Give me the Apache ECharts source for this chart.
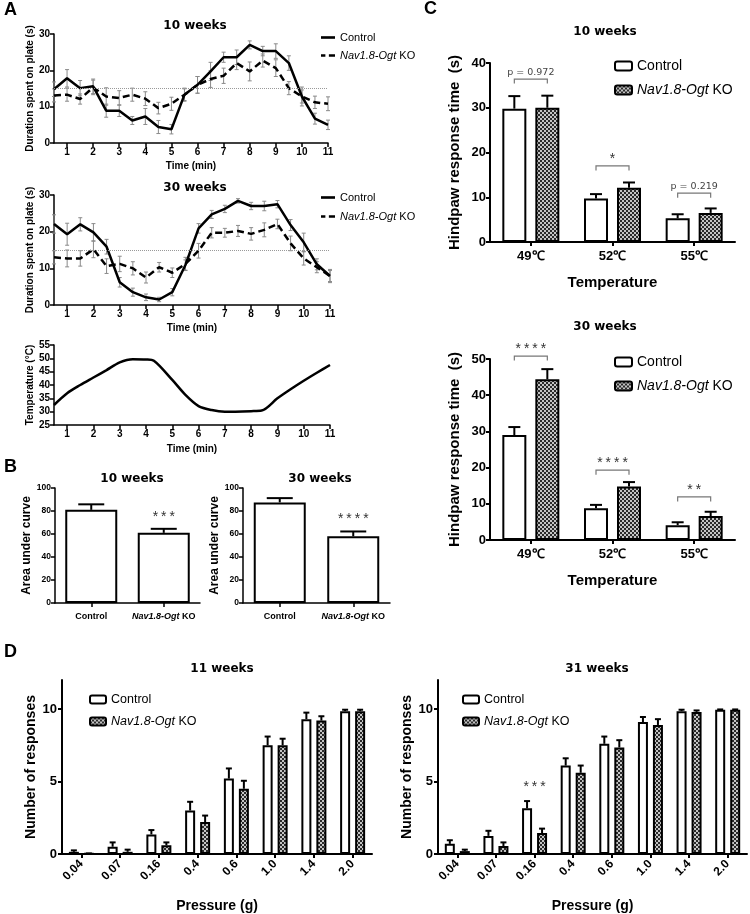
<!DOCTYPE html>
<html><head><meta charset="utf-8">
<script src="https://cdn.jsdelivr.net/npm/echarts@6/dist/echarts.min.js"></script>
<style>html,body{margin:0;padding:0;background:#fff}#c{width:750px;height:914px}</style>
</head><body><div id="c"></div>
<script>
// ---------- DATA ----------
const timeMin = [0.5,1,1.5,2,2.5,3,3.5,4,4.5,5,5.5,6,6.5,7,7.5,8,8.5,9,9.5,10,10.5,11];
const ctl10    = [14.8,17.8,15.1,15.6,8.9,8.9,6.2,7.3,4.4,3.8,13.3,16.0,19.7,23.6,23.6,27.0,25.3,25.3,22.0,12.8,6.7,5.0];
const ctl10Err = [2.0,2.4,2.1,2.0,1.8,1.6,1.1,2.2,1.8,1.3,1.8,2.3,2.5,1.4,2.0,1.1,1.3,2.0,2.0,2.6,1.5,1.3];
const ko10     = [13.1,13.3,12.1,15.3,12.8,12.4,13.3,12.2,9.6,10.8,13.3,16.0,17.6,18.5,22.0,19.7,22.7,20.6,15.1,12.8,11.2,10.8];
const ko10Err  = [1.8,1.8,1.4,2.0,2.4,2.0,1.8,1.9,1.6,1.8,1.6,2.3,2.3,2.1,1.8,2.6,1.8,2.3,1.8,1.8,1.7,1.9];
const ctl30    = [22.1,19.3,22.0,19.8,15.9,6.2,3.5,2.1,1.5,3.5,10.9,20.9,24.7,26.2,28.4,27.0,27.0,27.5,21.8,17.1,11.1,7.9];
const ctl30Err = [2.5,3.0,1.8,2.4,2.0,1.3,1.1,0.9,0.6,1.0,1.4,1.3,1.1,1.0,0.6,1.0,1.3,1.0,1.5,2.5,1.5,1.8];
const ko30     = [13.0,12.7,12.7,15.2,10.6,11.2,10.0,7.5,10.3,8.8,11.2,14.8,19.7,19.7,20.2,19.4,20.5,22.1,16.8,12.7,10.3,7.9];
const ko30Err  = [1.8,2.3,2.1,2.3,2.0,2.1,1.8,1.5,1.3,1.3,1.8,2.0,1.4,1.2,1.5,1.7,1.9,1.3,2.0,1.8,1.5,1.5];
const chanceLevel = 15;

const tempTime = [0.5,1,1.5,2,2.5,3,3.5,4,4.3,5,5.5,6,6.5,7,8,8.4,9,9.5,10,10.5,11];
const tempVal  = [32.5,36.9,40.0,42.8,45.6,48.5,49.7,49.6,49.1,41.9,36.3,32.1,30.6,30.0,30.2,30.4,35.0,38.4,41.6,44.6,47.5];

const groupsB   = ['Control','Nav1.8-Ogt KO'];
const auc10     = [81.0, 61.0];
const auc10Err  = [4.8, 3.5];
const auc30     = [87.5, 58.0];
const auc30Err  = [3.7, 4.2];

const hpCats     = ['49℃','52℃','55℃'];
const hpCtl10    = [29.8, 9.7, 5.3];
const hpCtl10Err = [2.8, 1.0, 0.9];
const hpKo10     = [30.0, 12.1, 6.5];
const hpKo10Err  = [2.7, 1.2, 1.0];
const hpCtl30    = [29.0, 8.8, 4.1];
const hpCtl30Err = [2.2, 0.9, 0.8];
const hpKo30     = [44.4, 14.8, 6.6];
const hpKo30Err  = [2.8, 1.2, 1.2];

const pressures = ['0.04','0.07','0.16','0.4','0.6','1.0','1.4','2.0'];
const vf11Ctl    = [0.15,0.5,1.35,3.0,5.2,7.5,9.3,9.85];
const vf11CtlErr = [0.1,0.3,0.3,0.6,0.7,0.6,0.45,0.1];
const vf11Ko     = [0.02,0.15,0.6,2.2,4.5,7.5,9.2,9.85];
const vf11KoErr  = [0.02,0.15,0.2,0.45,0.55,0.45,0.3,0.1];
const vf31Ctl    = [0.7,1.25,3.15,6.1,7.6,9.1,9.85,9.95];
const vf31CtlErr = [0.25,0.35,0.5,0.5,0.5,0.35,0.1,0.02];
const vf31Ko     = [0.2,0.55,1.45,5.6,7.35,8.9,9.8,9.95];
const vf31KoErr  = [0.1,0.25,0.3,0.5,0.5,0.4,0.1,0.02];

// significance annotations: [category index, y value, text]
const sigC10 = [[0,36.4,'p = 0.972'],[1,17.0,'*'],[2,10.9,'p = 0.219']];
const sigC30 = [[0,50.8,'****'],[1,19.3,'****'],[2,11.9,'**']];
const sigB10 = [[1,74,'***']];
const sigB30 = [[1,72,'****']];
const sigD31 = [[2,4.55,'***']];

// ---------- STYLE HELPERS ----------
const F = 'Liberation Sans', T = 'DejaVu Sans';
const pc = document.createElement('canvas'); pc.width = 4; pc.height = 4;
(function(){ const g = pc.getContext('2d'); g.fillStyle = '#c4c4c4'; g.fillRect(0,0,4,4); g.fillStyle = '#2a2a2a'; g.fillRect(0,0,2,2); g.fillRect(2,2,2,2); })();
const hatch = {image: pc, repeat: 'repeat'};

function valAxis(grid, o, fs, lw){
  return Object.assign({
    type:'value', gridIndex:grid, splitLine:{show:false},
    axisLine:{show:true, lineStyle:{color:'#000', width:lw}},
    axisTick:{show:true, length:4, lineStyle:{color:'#000', width:lw}},
    axisLabel:{color:'#000', fontFamily:F, fontWeight:'bold', fontSize:fs, margin:4},
    nameLocation:'middle',
    nameTextStyle:{color:'#000', fontFamily:F, fontWeight:'bold', fontSize:fs}
  }, o);
}
function catAxis(grid, cats, o, fs, lw){
  return Object.assign({
    type:'category', gridIndex:grid, data:cats, boundaryGap:true,
    axisLine:{show:true, lineStyle:{color:'#000', width:lw}},
    axisTick:{show:true, alignWithLabel:true, length:4, lineStyle:{color:'#000', width:lw}},
    axisLabel:{color:'#000', fontFamily:F, fontWeight:'bold', fontSize:fs, interval:0},
    nameLocation:'middle',
    nameTextStyle:{color:'#000', fontFamily:F, fontWeight:'bold', fontSize:fs}
  }, o);
}
const nameFmt = n => n.startsWith('Control') ? 'Control' : '{i|Nav1.8-Ogt} KO';

function errLineItem(color){
  return function(params, api){
    const x = api.value(0), m = api.value(1), e = api.value(2);
    const a = api.coord([x, m + e]), b = api.coord([x, m - e]);
    const st = {stroke:color, lineWidth:1};
    return {type:'group', children:[
      {type:'line', shape:{x1:a[0], y1:a[1], x2:b[0], y2:b[1]}, style:st},
      {type:'line', shape:{x1:a[0]-2, y1:a[1], x2:a[0]+2, y2:a[1]}, style:st},
      {type:'line', shape:{x1:b[0]-2, y1:b[1], x2:b[0]+2, y2:b[1]}, style:st}
    ]};
  };
}
function errBarItem(offset, cap, lw){
  return function(params, api){
    const c = api.value(0), m = api.value(1), e = api.value(2);
    const b = api.coord([c, m]), a = api.coord([c, m + e]);
    const x = b[0] + offset;
    const st = {stroke:'#000', lineWidth:lw};
    return {type:'group', children:[
      {type:'line', shape:{x1:x, y1:b[1], x2:x, y2:a[1]}, style:st},
      {type:'line', shape:{x1:x-cap, y1:a[1], x2:x+cap, y2:a[1]}, style:st}
    ]};
  };
}
function sigItem(list, half, bracket, font){
  return function(params, api){
    const d = list[params.dataIndex];
    const p = api.coord([d[0], d[1]]);
    const ch = [];
    const isStar = /^\*+$/.test(d[2]);
    if (bracket){
      const st = {stroke:'#777', lineWidth:1.2, fill:null};
      ch.push({type:'polyline', shape:{points:[[p[0]-half,p[1]+4.5],[p[0]-half,p[1]],[p[0]+half,p[1]],[p[0]+half,p[1]+4.5]]}, style:st});
    }
    ch.push({type:'text', style:{text:d[2], x:p[0], y: bracket ? (isStar ? p[1]+1 : p[1]-2) : p[1],
      align:'center', verticalAlign: bracket ? 'bottom' : 'middle',
      font: isStar ? font : 'normal 9.5px "DejaVu Sans"', fill: isStar ? '#333' : '#444'}});
    return {type:'group', children:ch};
  };
}
const starFont = '14px "Liberation Mono"';

// ---------- GRIDS ----------
const grids = [
  {left:54, top:34, width:274, height:109},   // A 10w
  {left:54, top:195, width:276, height:110},  // A 30w
  {left:54, top:345, width:276, height:80},   // A temp
  {left:55, top:488, width:145, height:115},  // B 10w
  {left:243, top:488, width:147, height:115}, // B 30w
  {left:490, top:63, width:245, height:179},  // C 10w
  {left:490, top:359, width:245, height:181}, // C 30w
  {left:62, top:680, width:310, height:174},  // D 11w
  {left:438, top:680, width:309, height:174}  // D 31w
];
const ticks11 = [1,2,3,4,5,6,7,8,9,10,11];

const xAxes = [
  valAxis(0, {min:0.5, max:11, name:'Time (min)', nameGap:18,
    axisLabel:{color:'#000', fontFamily:F, fontWeight:'bold', fontSize:10, margin:4, customValues:ticks11},
    axisTick:{show:true, length:4, lineStyle:{color:'#000', width:1.5}, customValues:ticks11}}, 10, 1.5),
  valAxis(1, {min:0.5, max:11, name:'Time (min)', nameGap:18,
    axisLabel:{color:'#000', fontFamily:F, fontWeight:'bold', fontSize:10, margin:4, customValues:ticks11},
    axisTick:{show:true, length:4, lineStyle:{color:'#000', width:1.5}, customValues:ticks11}}, 10, 1.5),
  valAxis(2, {min:0.5, max:11, name:'Time (min)', nameGap:19,
    axisLabel:{color:'#000', fontFamily:F, fontWeight:'bold', fontSize:10, margin:4, customValues:ticks11},
    axisTick:{show:true, length:4, lineStyle:{color:'#000', width:1.5}, customValues:ticks11}}, 10, 1.5),
  catAxis(3, groupsB, {axisLabel:{color:'#000', fontFamily:F, fontWeight:'bold', fontSize:9, margin:9, interval:0, formatter:nameFmt, rich:{i:{fontStyle:'italic', fontWeight:'bold', fontFamily:F, fontSize:9, color:'#000'}}}}, 9, 1.5),
  catAxis(4, groupsB, {axisLabel:{color:'#000', fontFamily:F, fontWeight:'bold', fontSize:9, margin:9, interval:0, formatter:nameFmt, rich:{i:{fontStyle:'italic', fontWeight:'bold', fontFamily:F, fontSize:9, color:'#000'}}}}, 9, 1.5),
  catAxis(5, hpCats, {name:'Temperature', nameGap:33, nameTextStyle:{color:'#000', fontFamily:F, fontWeight:'bold', fontSize:15},
    axisLabel:{color:'#000', fontFamily:F, fontWeight:'bold', fontSize:13, margin:8, interval:0}}, 13, 2),
  catAxis(6, hpCats, {name:'Temperature', nameGap:33, nameTextStyle:{color:'#000', fontFamily:F, fontWeight:'bold', fontSize:15},
    axisLabel:{color:'#000', fontFamily:F, fontWeight:'bold', fontSize:13, margin:8, interval:0}}, 13, 2),
  catAxis(7, pressures, {name:'Pressure (g)', nameGap:45, nameTextStyle:{color:'#000', fontFamily:F, fontWeight:'bold', fontSize:14},
    axisLabel:{color:'#000', fontFamily:F, fontWeight:'bold', fontSize:12, rotate:45, margin:8, interval:0}}, 12, 2),
  catAxis(8, pressures, {name:'Pressure (g)', nameGap:45, nameTextStyle:{color:'#000', fontFamily:F, fontWeight:'bold', fontSize:14},
    axisLabel:{color:'#000', fontFamily:F, fontWeight:'bold', fontSize:12, rotate:45, margin:8, interval:0}}, 12, 2)
];
const yAxes = [
  valAxis(0, {min:0, max:30, interval:10, name:'Duration spent on plate (s)', nameGap:19}, 10, 1.5),
  valAxis(1, {min:0, max:30, interval:10, name:'Duration spent on plate (s)', nameGap:19}, 10, 1.5),
  valAxis(2, {min:25, max:55, interval:5, name:'Temperature (°C)', nameGap:19}, 10, 1.5),
  valAxis(3, {min:0, max:100, interval:20, name:'Area under curve', nameGap:22,
    nameTextStyle:{color:'#000', fontFamily:F, fontWeight:'bold', fontSize:12}}, 8.5, 1.5),
  valAxis(4, {min:0, max:100, interval:20, name:'Area under curve', nameGap:22,
    nameTextStyle:{color:'#000', fontFamily:F, fontWeight:'bold', fontSize:12}}, 8.5, 1.5),
  valAxis(5, {min:0, max:40, interval:10, name:'Hindpaw response time  (s)', nameGap:28,
    nameTextStyle:{color:'#000', fontFamily:F, fontWeight:'bold', fontSize:15}}, 13, 2),
  valAxis(6, {min:0, max:50, interval:10, name:'Hindpaw response time  (s)', nameGap:28,
    nameTextStyle:{color:'#000', fontFamily:F, fontWeight:'bold', fontSize:15}}, 13, 2),
  valAxis(7, {min:0, max:12, name:'Number of responses', nameGap:22,
    axisLabel:{color:'#000', fontFamily:F, fontWeight:'bold', fontSize:13, margin:5, customValues:[0,5,10]},
    axisTick:{show:true, length:4, lineStyle:{color:'#000', width:2}, customValues:[0,5,10]},
    nameTextStyle:{color:'#000', fontFamily:F, fontWeight:'bold', fontSize:14}}, 13, 2),
  valAxis(8, {min:0, max:12, name:'Number of responses', nameGap:22,
    axisLabel:{color:'#000', fontFamily:F, fontWeight:'bold', fontSize:13, margin:5, customValues:[0,5,10]},
    axisTick:{show:true, length:4, lineStyle:{color:'#000', width:2}, customValues:[0,5,10]},
    nameTextStyle:{color:'#000', fontFamily:F, fontWeight:'bold', fontSize:14}}, 13, 2)
];

// ---------- SERIES ----------
const series = [];
function lineSet(idx, tag, c, cE, k, kE){
  series.push({type:'custom', name:'errC'+tag, xAxisIndex:idx, yAxisIndex:idx, z:1,
    renderItem:errLineItem('#8a8a8a'), data:timeMin.map((t,i)=>[t,c[i],cE[i]]), silent:true});
  series.push({type:'custom', name:'errK'+tag, xAxisIndex:idx, yAxisIndex:idx, z:1,
    renderItem:errLineItem('#8a8a8a'), data:timeMin.map((t,i)=>[t,k[i],kE[i]]), silent:true});
  series.push({type:'line', name:'Control#'+tag, xAxisIndex:idx, yAxisIndex:idx, z:3,
    symbol:'none', lineStyle:{color:'#000', width:2.5}, itemStyle:{color:'#000'},
    data:timeMin.map((t,i)=>[t,c[i]]),
    markLine:{silent:true, symbol:'none', label:{show:false}, lineStyle:{type:'dotted', color:'#999', width:1},
      data:[{yAxis:chanceLevel}]}});
  series.push({type:'line', name:'Nav1.8-Ogt KO#'+tag, xAxisIndex:idx, yAxisIndex:idx, z:3,
    symbol:'none', lineStyle:{color:'#000', width:2.5, type:[7,4]}, itemStyle:{color:'#000'},
    data:timeMin.map((t,i)=>[t,k[i]])});
}
lineSet(0,'a10',ctl10,ctl10Err,ko10,ko10Err);
lineSet(1,'a30',ctl30,ctl30Err,ko30,ko30Err);
series.push({type:'line', name:'temp', xAxisIndex:2, yAxisIndex:2, symbol:'none', smooth:0.3,
  lineStyle:{color:'#000', width:2.5}, data:tempTime.map((t,i)=>[t,tempVal[i]])});

// B
function aucSet(idx, vals, errs, sig){
  series.push({type:'bar', name:'auc'+idx, xAxisIndex:idx, yAxisIndex:idx, barWidth:52, z:2,
    itemStyle:{color:'#fff', borderColor:'#000', borderWidth:2}, data:vals});
  series.push({type:'custom', name:'aucErr'+idx, xAxisIndex:idx, yAxisIndex:idx, z:1,
    renderItem:errBarItem(0, 13, 2), data:vals.map((v,i)=>[i,v,errs[i]]), silent:true});
  series.push({type:'custom', name:'aucSig'+idx, xAxisIndex:idx, yAxisIndex:idx, z:4, clip:false,
    renderItem:sigItem(sig, 0, false, starFont), data:sig.map(d=>[d[0],d[1]]), silent:true});
}
aucSet(3, auc10, auc10Err, sigB10);
aucSet(4, auc30, auc30Err, sigB30);

// C and D grouped bars
function pairSet(idx, tag, c, cE, k, kE, bw, gapPct, off, cap, sig, bracket){
  series.push({type:'bar', name:'Control#'+tag, xAxisIndex:idx, yAxisIndex:idx, barWidth:bw, barGap:gapPct, z:2,
    itemStyle:{color:'#fff', borderColor:'#000', borderWidth:2}, data:c});
  series.push({type:'bar', name:'Nav1.8-Ogt KO#'+tag, xAxisIndex:idx, yAxisIndex:idx, barWidth:bw, barGap:gapPct, z:2,
    itemStyle:{color:hatch, borderColor:'#000', borderWidth:2}, data:k});
  series.push({type:'custom', name:'eC'+tag, xAxisIndex:idx, yAxisIndex:idx, z:1,
    renderItem:errBarItem(-off, cap, 2), data:c.map((v,i)=>[i,v,cE[i]]), silent:true});
  series.push({type:'custom', name:'eK'+tag, xAxisIndex:idx, yAxisIndex:idx, z:1,
    renderItem:errBarItem(off, cap, 2), data:k.map((v,i)=>[i,v,kE[i]]), silent:true});
  if (sig) series.push({type:'custom', name:'sig'+tag, xAxisIndex:idx, yAxisIndex:idx, z:4, clip:false,
    renderItem:sigItem(sig, off, bracket, starFont), data:sig.map(d=>[d[0],d[1]]), silent:true});
}
pairSet(5,'c10',hpCtl10,hpCtl10Err,hpKo10,hpKo10Err,24,'37.5%',16.5,6,sigC10,true);
pairSet(6,'c30',hpCtl30,hpCtl30Err,hpKo30,hpKo30Err,24,'37.5%',16.5,6,sigC30,true);
pairSet(7,'d11',vf11Ctl,vf11CtlErr,vf11Ko,vf11KoErr,10,'50%',7.5,3,null,false);
pairSet(8,'d31',vf31Ctl,vf31CtlErr,vf31Ko,vf31KoErr,10,'50%',7.5,3,sigD31,false);

// ---------- LEGENDS ----------
const solidIcon = 'path://M0,0H16V3H0Z';
const dashIcon  = 'path://M0,0H5V3H0Z M9,0H16V3H9Z';
function legend(tag, left, top, fs, iw, ih, gap, isLine){
  const lg = {left:left, top:top, orient:'vertical', selectedMode:false, itemWidth:iw, itemHeight:ih, itemGap:gap,
    formatter:nameFmt,
    textStyle:{color:'#000', fontFamily:F, fontSize:fs, rich:{i:{fontStyle:'italic', fontFamily:F, fontSize:fs, color:'#000'}}}};
  if (isLine){
    lg.data = [{name:'Control#'+tag, icon:solidIcon, itemStyle:{color:'#000', borderWidth:0}},
               {name:'Nav1.8-Ogt KO#'+tag, icon:dashIcon, itemStyle:{color:'#000', borderWidth:0}}];
  } else {
    lg.data = ['Control#'+tag, 'Nav1.8-Ogt KO#'+tag];
  }
  return lg;
}
const legends = [
  legend('a10', 316, 27, 11, 14, 3, 7, true),
  legend('a30', 316, 187, 11, 14, 3, 8, true),
  legend('c10', 609, 54, 14, 17, 9, 10, false),
  legend('c30', 609, 350, 14, 17, 9, 10, false),
  legend('d11', 84, 688, 12.5, 16, 8, 9, false),
  legend('d31', 457, 688, 12.5, 16, 8, 9, false)
];

// ---------- TITLES ----------
function ttl(text, cx, top){
  return {text:text, left:cx, top:top, textAlign:'center',
    textStyle:{fontFamily:T, fontWeight:'bold', fontSize:12, color:'#000'}};
}
const titles = [
  ttl('10 weeks', 190, 15), ttl('30 weeks', 190, 177),
  ttl('10 weeks', 127, 468), ttl('30 weeks', 315, 468),
  ttl('10 weeks', 600, 21), ttl('30 weeks', 600, 316),
  ttl('11 weeks', 217, 658), ttl('31 weeks', 592, 658)
];

const letters = [['A',4,1],['B',4,458],['C',424,0],['D',4,643]].map(l => ({
  type:'text', left:l[1], top:l[2], style:{text:l[0], font:'bold 18px "Liberation Sans"', fill:'#000'}}));

const chart = echarts.init(document.getElementById('c'));
chart.setOption({
  animation:false, backgroundColor:'#fff',
  title:titles, grid:grids, xAxis:xAxes, yAxis:yAxes, legend:legends, series:series, graphic:letters
});
</script></body></html>
